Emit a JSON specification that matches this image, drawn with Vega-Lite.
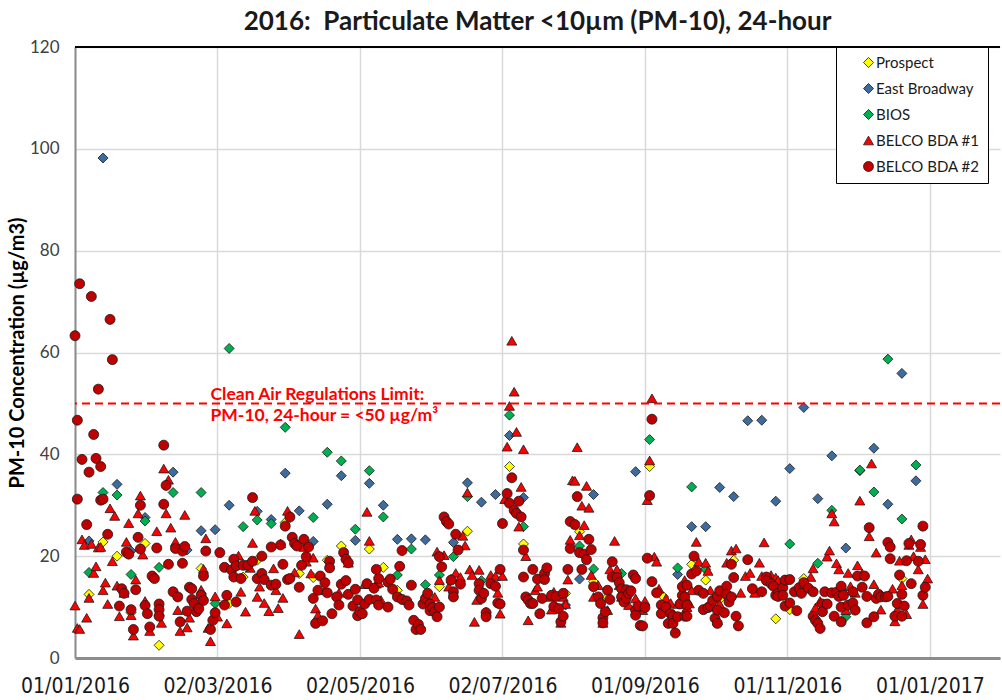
{
"$schema":"https://vega.github.io/schema/vega-lite/v6.json",
"width":925,"height":611,
"autosize":{"type":"none"},
"padding":{"left":75,"top":47,"right":2,"bottom":42},
"background":"white",
"title":{"text":"2016:\u00a0 Particulate Matter <10µm (PM-10), 24-hour","font":"Lato","fontSize":26,"fontWeight":"bold","color":"#1a1a1a","anchor":"middle","frame":"group","offset":3},
"config":{"view":{"stroke":null}},
"layer":[
{"data":{"values":[
{"site":"Prospect","date":"2016-01-07","pm10":12.5},{"site":"Prospect","date":"2016-01-13","pm10":22.8},{"site":"Prospect","date":"2016-01-19","pm10":20.0},{"site":"Prospect","date":"2016-01-25","pm10":8.9},{"site":"Prospect","date":"2016-01-31","pm10":22.5},{"site":"Prospect","date":"2016-02-06","pm10":2.5},{"site":"Prospect","date":"2016-02-24","pm10":17.6},{"site":"Prospect","date":"2016-03-07","pm10":10.7},{"site":"Prospect","date":"2016-03-13","pm10":15.9},{"site":"Prospect","date":"2016-03-19","pm10":19.2},{"site":"Prospect","date":"2016-03-31","pm10":26.6},{"site":"Prospect","date":"2016-04-06","pm10":16.6},{"site":"Prospect","date":"2016-04-12","pm10":15.8},{"site":"Prospect","date":"2016-04-18","pm10":19.2},{"site":"Prospect","date":"2016-04-24","pm10":22.0},{"site":"Prospect","date":"2016-05-06","pm10":21.4},{"site":"Prospect","date":"2016-05-12","pm10":17.8},{"site":"Prospect","date":"2016-05-18","pm10":13.3},{"site":"Prospect","date":"2016-06-05","pm10":14.0},{"site":"Prospect","date":"2016-06-17","pm10":24.9},{"site":"Prospect","date":"2016-06-29","pm10":14.1},{"site":"Prospect","date":"2016-07-05","pm10":37.6},{"site":"Prospect","date":"2016-07-11","pm10":22.4},{"site":"Prospect","date":"2016-07-29","pm10":12.7},{"site":"Prospect","date":"2016-08-04","pm10":24.8},{"site":"Prospect","date":"2016-08-10","pm10":15.0},{"site":"Prospect","date":"2016-08-16","pm10":12.0},{"site":"Prospect","date":"2016-09-03","pm10":37.6},{"site":"Prospect","date":"2016-09-09","pm10":12.0},{"site":"Prospect","date":"2016-09-21","pm10":18.4},{"site":"Prospect","date":"2016-09-27","pm10":15.3},{"site":"Prospect","date":"2016-10-03","pm10":11.5},{"site":"Prospect","date":"2016-10-09","pm10":19.2},{"site":"Prospect","date":"2016-10-27","pm10":7.7},{"site":"Prospect","date":"2016-11-02","pm10":9.5},{"site":"Prospect","date":"2016-11-08","pm10":15.6},{"site":"Prospect","date":"2016-12-20","pm10":15.6},
{"site":"East Broadway","date":"2016-01-07","pm10":23.0},{"site":"East Broadway","date":"2016-01-13","pm10":98.2},{"site":"East Broadway","date":"2016-01-19","pm10":34.1},{"site":"East Broadway","date":"2016-01-25","pm10":21.0},{"site":"East Broadway","date":"2016-01-31","pm10":27.6},{"site":"East Broadway","date":"2016-02-12","pm10":36.5},{"site":"East Broadway","date":"2016-02-18","pm10":21.2},{"site":"East Broadway","date":"2016-02-24","pm10":25.0},{"site":"East Broadway","date":"2016-03-01","pm10":25.2},{"site":"East Broadway","date":"2016-03-07","pm10":30.0},{"site":"East Broadway","date":"2016-03-19","pm10":28.8},{"site":"East Broadway","date":"2016-03-25","pm10":27.2},{"site":"East Broadway","date":"2016-03-31","pm10":36.3},{"site":"East Broadway","date":"2016-04-06","pm10":28.9},{"site":"East Broadway","date":"2016-04-12","pm10":22.9},{"site":"East Broadway","date":"2016-04-18","pm10":30.2},{"site":"East Broadway","date":"2016-04-24","pm10":35.8},{"site":"East Broadway","date":"2016-04-30","pm10":23.1},{"site":"East Broadway","date":"2016-05-06","pm10":34.3},{"site":"East Broadway","date":"2016-05-12","pm10":30.0},{"site":"East Broadway","date":"2016-05-18","pm10":23.3},{"site":"East Broadway","date":"2016-05-24","pm10":23.4},{"site":"East Broadway","date":"2016-05-30","pm10":23.2},{"site":"East Broadway","date":"2016-06-11","pm10":22.7},{"site":"East Broadway","date":"2016-06-17","pm10":34.4},{"site":"East Broadway","date":"2016-06-23","pm10":30.6},{"site":"East Broadway","date":"2016-06-29","pm10":32.1},{"site":"East Broadway","date":"2016-07-05","pm10":43.7},{"site":"East Broadway","date":"2016-07-11","pm10":31.5},{"site":"East Broadway","date":"2016-07-29","pm10":10.4},{"site":"East Broadway","date":"2016-08-04","pm10":15.5},{"site":"East Broadway","date":"2016-08-10","pm10":32.1},{"site":"East Broadway","date":"2016-08-28","pm10":36.6},{"site":"East Broadway","date":"2016-09-15","pm10":16.4},{"site":"East Broadway","date":"2016-09-21","pm10":25.8},{"site":"East Broadway","date":"2016-09-27","pm10":25.8},{"site":"East Broadway","date":"2016-10-03","pm10":33.5},{"site":"East Broadway","date":"2016-10-09","pm10":31.7},{"site":"East Broadway","date":"2016-10-15","pm10":46.6},{"site":"East Broadway","date":"2016-10-21","pm10":46.7},{"site":"East Broadway","date":"2016-10-27","pm10":30.8},{"site":"East Broadway","date":"2016-11-02","pm10":37.2},{"site":"East Broadway","date":"2016-11-08","pm10":49.2},{"site":"East Broadway","date":"2016-11-14","pm10":31.3},{"site":"East Broadway","date":"2016-11-20","pm10":39.7},{"site":"East Broadway","date":"2016-11-26","pm10":21.6},{"site":"East Broadway","date":"2016-12-02","pm10":36.8},{"site":"East Broadway","date":"2016-12-08","pm10":41.2},{"site":"East Broadway","date":"2016-12-14","pm10":30.2},{"site":"East Broadway","date":"2016-12-20","pm10":55.9},{"site":"East Broadway","date":"2016-12-26","pm10":34.8},
{"site":"BIOS","date":"2016-01-07","pm10":16.8},{"site":"BIOS","date":"2016-01-13","pm10":32.5},{"site":"BIOS","date":"2016-01-19","pm10":32.0},{"site":"BIOS","date":"2016-01-25","pm10":16.4},{"site":"BIOS","date":"2016-01-31","pm10":26.9},{"site":"BIOS","date":"2016-02-06","pm10":17.8},{"site":"BIOS","date":"2016-02-12","pm10":32.5},{"site":"BIOS","date":"2016-02-24","pm10":32.5},{"site":"BIOS","date":"2016-03-01","pm10":10.7},{"site":"BIOS","date":"2016-03-07","pm10":60.8},{"site":"BIOS","date":"2016-03-13","pm10":25.8},{"site":"BIOS","date":"2016-03-19","pm10":27.1},{"site":"BIOS","date":"2016-03-25","pm10":26.4},{"site":"BIOS","date":"2016-03-31","pm10":45.3},{"site":"BIOS","date":"2016-04-12","pm10":27.6},{"site":"BIOS","date":"2016-04-18","pm10":40.4},{"site":"BIOS","date":"2016-04-24","pm10":38.7},{"site":"BIOS","date":"2016-04-30","pm10":25.3},{"site":"BIOS","date":"2016-05-06","pm10":36.8},{"site":"BIOS","date":"2016-05-12","pm10":27.7},{"site":"BIOS","date":"2016-05-18","pm10":16.3},{"site":"BIOS","date":"2016-05-24","pm10":21.4},{"site":"BIOS","date":"2016-05-30","pm10":14.4},{"site":"BIOS","date":"2016-06-05","pm10":16.3},{"site":"BIOS","date":"2016-06-11","pm10":19.9},{"site":"BIOS","date":"2016-06-17","pm10":31.7},{"site":"BIOS","date":"2016-06-23","pm10":15.2},{"site":"BIOS","date":"2016-07-05","pm10":47.7},{"site":"BIOS","date":"2016-07-11","pm10":25.8},{"site":"BIOS","date":"2016-08-04","pm10":22.0},{"site":"BIOS","date":"2016-08-10","pm10":17.5},{"site":"BIOS","date":"2016-08-22","pm10":16.6},{"site":"BIOS","date":"2016-09-03","pm10":42.9},{"site":"BIOS","date":"2016-09-15","pm10":17.7},{"site":"BIOS","date":"2016-09-21","pm10":33.6},{"site":"BIOS","date":"2016-09-27","pm10":17.4},{"site":"BIOS","date":"2016-11-02","pm10":22.4},{"site":"BIOS","date":"2016-11-14","pm10":18.6},{"site":"BIOS","date":"2016-11-20","pm10":29.0},{"site":"BIOS","date":"2016-11-26","pm10":8.1},{"site":"BIOS","date":"2016-12-02","pm10":36.9},{"site":"BIOS","date":"2016-12-08","pm10":32.6},{"site":"BIOS","date":"2016-12-14","pm10":58.7},{"site":"BIOS","date":"2016-12-20","pm10":27.3},{"site":"BIOS","date":"2016-12-26","pm10":37.9},
{"site":"BELCO BDA #1","date":"2016-01-01","pm10":10.3},{"site":"BELCO BDA #1","date":"2016-01-02","pm10":5.9},{"site":"BELCO BDA #1","date":"2016-01-03","pm10":5.7},{"site":"BELCO BDA #1","date":"2016-01-04","pm10":23.3},{"site":"BELCO BDA #1","date":"2016-01-05","pm10":22.2},{"site":"BELCO BDA #1","date":"2016-01-06","pm10":7.9},{"site":"BELCO BDA #1","date":"2016-01-07","pm10":11.8},{"site":"BELCO BDA #1","date":"2016-01-08","pm10":22.4},{"site":"BELCO BDA #1","date":"2016-01-09","pm10":16.7},{"site":"BELCO BDA #1","date":"2016-01-10","pm10":18.0},{"site":"BELCO BDA #1","date":"2016-01-11","pm10":21.7},{"site":"BELCO BDA #1","date":"2016-01-12","pm10":21.8},{"site":"BELCO BDA #1","date":"2016-01-13","pm10":13.3},{"site":"BELCO BDA #1","date":"2016-01-14","pm10":14.8},{"site":"BELCO BDA #1","date":"2016-01-15","pm10":10.6},{"site":"BELCO BDA #1","date":"2016-01-16","pm10":29.4},{"site":"BELCO BDA #1","date":"2016-01-17","pm10":19.0},{"site":"BELCO BDA #1","date":"2016-01-18","pm10":27.9},{"site":"BELCO BDA #1","date":"2016-01-19","pm10":14.2},{"site":"BELCO BDA #1","date":"2016-01-20","pm10":8.2},{"site":"BELCO BDA #1","date":"2016-01-22","pm10":12.8},{"site":"BELCO BDA #1","date":"2016-01-23","pm10":22.8},{"site":"BELCO BDA #1","date":"2016-01-24","pm10":26.5},{"site":"BELCO BDA #1","date":"2016-01-25","pm10":8.4},{"site":"BELCO BDA #1","date":"2016-01-26","pm10":4.4},{"site":"BELCO BDA #1","date":"2016-01-27","pm10":15.4},{"site":"BELCO BDA #1","date":"2016-01-28","pm10":28.4},{"site":"BELCO BDA #1","date":"2016-01-29","pm10":31.9},{"site":"BELCO BDA #1","date":"2016-01-30","pm10":20.3},{"site":"BELCO BDA #1","date":"2016-01-31","pm10":11.2},{"site":"BELCO BDA #1","date":"2016-02-02","pm10":5.3},{"site":"BELCO BDA #1","date":"2016-02-05","pm10":24.9},{"site":"BELCO BDA #1","date":"2016-02-06","pm10":9.2},{"site":"BELCO BDA #1","date":"2016-02-07","pm10":6.9},{"site":"BELCO BDA #1","date":"2016-02-08","pm10":37.2},{"site":"BELCO BDA #1","date":"2016-02-09","pm10":28.4},{"site":"BELCO BDA #1","date":"2016-02-10","pm10":35.0},{"site":"BELCO BDA #1","date":"2016-02-11","pm10":25.6},{"site":"BELCO BDA #1","date":"2016-02-13","pm10":22.8},{"site":"BELCO BDA #1","date":"2016-02-14","pm10":9.4},{"site":"BELCO BDA #1","date":"2016-02-15","pm10":5.3},{"site":"BELCO BDA #1","date":"2016-02-17","pm10":28.1},{"site":"BELCO BDA #1","date":"2016-02-18","pm10":6.0},{"site":"BELCO BDA #1","date":"2016-02-19","pm10":7.9},{"site":"BELCO BDA #1","date":"2016-02-24","pm10":13.4},{"site":"BELCO BDA #1","date":"2016-02-25","pm10":17.5},{"site":"BELCO BDA #1","date":"2016-02-26","pm10":23.5},{"site":"BELCO BDA #1","date":"2016-02-27","pm10":5.9},{"site":"BELCO BDA #1","date":"2016-02-28","pm10":3.3},{"site":"BELCO BDA #1","date":"2016-03-01","pm10":12.1},{"site":"BELCO BDA #1","date":"2016-03-02","pm10":8.1},{"site":"BELCO BDA #1","date":"2016-03-06","pm10":6.8},{"site":"BELCO BDA #1","date":"2016-03-11","pm10":20.1},{"site":"BELCO BDA #1","date":"2016-03-12","pm10":13.0},{"site":"BELCO BDA #1","date":"2016-03-14","pm10":9.1},{"site":"BELCO BDA #1","date":"2016-03-16","pm10":17.7},{"site":"BELCO BDA #1","date":"2016-03-17","pm10":22.6},{"site":"BELCO BDA #1","date":"2016-03-18","pm10":28.9},{"site":"BELCO BDA #1","date":"2016-03-19","pm10":12.0},{"site":"BELCO BDA #1","date":"2016-03-20","pm10":14.0},{"site":"BELCO BDA #1","date":"2016-03-22","pm10":10.8},{"site":"BELCO BDA #1","date":"2016-03-24","pm10":9.2},{"site":"BELCO BDA #1","date":"2016-03-26","pm10":17.6},{"site":"BELCO BDA #1","date":"2016-03-27","pm10":13.3},{"site":"BELCO BDA #1","date":"2016-03-28","pm10":9.8},{"site":"BELCO BDA #1","date":"2016-03-29","pm10":22.5},{"site":"BELCO BDA #1","date":"2016-03-30","pm10":11.8},{"site":"BELCO BDA #1","date":"2016-04-01","pm10":28.9},{"site":"BELCO BDA #1","date":"2016-04-04","pm10":16.8},{"site":"BELCO BDA #1","date":"2016-04-06","pm10":4.7},{"site":"BELCO BDA #1","date":"2016-04-08","pm10":21.8},{"site":"BELCO BDA #1","date":"2016-04-09","pm10":18.9},{"site":"BELCO BDA #1","date":"2016-04-11","pm10":16.6},{"site":"BELCO BDA #1","date":"2016-04-12","pm10":19.7},{"site":"BELCO BDA #1","date":"2016-04-13","pm10":9.7},{"site":"BELCO BDA #1","date":"2016-04-14","pm10":8.4},{"site":"BELCO BDA #1","date":"2016-04-17","pm10":13.3},{"site":"BELCO BDA #1","date":"2016-04-23","pm10":12.8},{"site":"BELCO BDA #1","date":"2016-04-27","pm10":18.7},{"site":"BELCO BDA #1","date":"2016-05-04","pm10":14.5},{"site":"BELCO BDA #1","date":"2016-05-05","pm10":28.7},{"site":"BELCO BDA #1","date":"2016-05-06","pm10":23.0},{"site":"BELCO BDA #1","date":"2016-05-09","pm10":14.6},{"site":"BELCO BDA #1","date":"2016-05-10","pm10":14.8},{"site":"BELCO BDA #1","date":"2016-05-11","pm10":11.4},{"site":"BELCO BDA #1","date":"2016-06-03","pm10":12.0},{"site":"BELCO BDA #1","date":"2016-06-04","pm10":20.9},{"site":"BELCO BDA #1","date":"2016-06-05","pm10":15.3},{"site":"BELCO BDA #1","date":"2016-06-07","pm10":20.2},{"site":"BELCO BDA #1","date":"2016-06-09","pm10":14.0},{"site":"BELCO BDA #1","date":"2016-06-10","pm10":15.6},{"site":"BELCO BDA #1","date":"2016-06-12","pm10":16.7},{"site":"BELCO BDA #1","date":"2016-06-14","pm10":15.9},{"site":"BELCO BDA #1","date":"2016-06-15","pm10":24.0},{"site":"BELCO BDA #1","date":"2016-06-16","pm10":22.1},{"site":"BELCO BDA #1","date":"2016-06-17","pm10":32.5},{"site":"BELCO BDA #1","date":"2016-06-18","pm10":17.4},{"site":"BELCO BDA #1","date":"2016-06-19","pm10":16.3},{"site":"BELCO BDA #1","date":"2016-06-20","pm10":7.1},{"site":"BELCO BDA #1","date":"2016-06-21","pm10":11.4},{"site":"BELCO BDA #1","date":"2016-06-22","pm10":17.3},{"site":"BELCO BDA #1","date":"2016-06-25","pm10":9.1},{"site":"BELCO BDA #1","date":"2016-06-27","pm10":16.3},{"site":"BELCO BDA #1","date":"2016-06-29","pm10":16.1},{"site":"BELCO BDA #1","date":"2016-06-30","pm10":12.8},{"site":"BELCO BDA #1","date":"2016-07-01","pm10":8.7},{"site":"BELCO BDA #1","date":"2016-07-02","pm10":16.1},{"site":"BELCO BDA #1","date":"2016-07-03","pm10":31.2},{"site":"BELCO BDA #1","date":"2016-07-04","pm10":41.5},{"site":"BELCO BDA #1","date":"2016-07-05","pm10":49.5},{"site":"BELCO BDA #1","date":"2016-07-06","pm10":62.3},{"site":"BELCO BDA #1","date":"2016-07-07","pm10":52.3},{"site":"BELCO BDA #1","date":"2016-07-08","pm10":44.4},{"site":"BELCO BDA #1","date":"2016-07-09","pm10":25.8},{"site":"BELCO BDA #1","date":"2016-07-10","pm10":33.6},{"site":"BELCO BDA #1","date":"2016-07-11","pm10":41.0},{"site":"BELCO BDA #1","date":"2016-07-12","pm10":20.0},{"site":"BELCO BDA #1","date":"2016-07-13","pm10":7.4},{"site":"BELCO BDA #1","date":"2016-07-16","pm10":13.3},{"site":"BELCO BDA #1","date":"2016-07-17","pm10":14.0},{"site":"BELCO BDA #1","date":"2016-07-22","pm10":12.0},{"site":"BELCO BDA #1","date":"2016-07-23","pm10":9.5},{"site":"BELCO BDA #1","date":"2016-07-24","pm10":13.0},{"site":"BELCO BDA #1","date":"2016-07-27","pm10":6.9},{"site":"BELCO BDA #1","date":"2016-07-28","pm10":12.0},{"site":"BELCO BDA #1","date":"2016-07-29","pm10":10.6},{"site":"BELCO BDA #1","date":"2016-07-30","pm10":15.4},{"site":"BELCO BDA #1","date":"2016-07-31","pm10":23.2},{"site":"BELCO BDA #1","date":"2016-08-01","pm10":34.9},{"site":"BELCO BDA #1","date":"2016-08-02","pm10":34.8},{"site":"BELCO BDA #1","date":"2016-08-03","pm10":41.4},{"site":"BELCO BDA #1","date":"2016-08-04","pm10":24.1},{"site":"BELCO BDA #1","date":"2016-08-05","pm10":29.9},{"site":"BELCO BDA #1","date":"2016-08-06","pm10":26.1},{"site":"BELCO BDA #1","date":"2016-08-07","pm10":33.8},{"site":"BELCO BDA #1","date":"2016-08-08","pm10":29.5},{"site":"BELCO BDA #1","date":"2016-08-09","pm10":16.3},{"site":"BELCO BDA #1","date":"2016-08-10","pm10":12.0},{"site":"BELCO BDA #1","date":"2016-08-12","pm10":14.3},{"site":"BELCO BDA #1","date":"2016-08-14","pm10":6.9},{"site":"BELCO BDA #1","date":"2016-08-16","pm10":9.4},{"site":"BELCO BDA #1","date":"2016-08-17","pm10":17.4},{"site":"BELCO BDA #1","date":"2016-08-19","pm10":23.0},{"site":"BELCO BDA #1","date":"2016-08-20","pm10":17.4},{"site":"BELCO BDA #1","date":"2016-08-21","pm10":14.3},{"site":"BELCO BDA #1","date":"2016-08-22","pm10":12.0},{"site":"BELCO BDA #1","date":"2016-08-25","pm10":10.4},{"site":"BELCO BDA #1","date":"2016-08-28","pm10":11.7},{"site":"BELCO BDA #1","date":"2016-08-31","pm10":9.4},{"site":"BELCO BDA #1","date":"2016-09-01","pm10":11.2},{"site":"BELCO BDA #1","date":"2016-09-02","pm10":31.0},{"site":"BELCO BDA #1","date":"2016-09-03","pm10":38.8},{"site":"BELCO BDA #1","date":"2016-09-04","pm10":51.0},{"site":"BELCO BDA #1","date":"2016-09-05","pm10":19.9},{"site":"BELCO BDA #1","date":"2016-09-06","pm10":18.9},{"site":"BELCO BDA #1","date":"2016-09-07","pm10":13.6},{"site":"BELCO BDA #1","date":"2016-09-10","pm10":11.7},{"site":"BELCO BDA #1","date":"2016-09-12","pm10":10.8},{"site":"BELCO BDA #1","date":"2016-09-15","pm10":10.6},{"site":"BELCO BDA #1","date":"2016-09-17","pm10":11.2},{"site":"BELCO BDA #1","date":"2016-09-18","pm10":15.3},{"site":"BELCO BDA #1","date":"2016-09-19","pm10":10.0},{"site":"BELCO BDA #1","date":"2016-09-20","pm10":10.7},{"site":"BELCO BDA #1","date":"2016-09-21","pm10":13.3},{"site":"BELCO BDA #1","date":"2016-09-23","pm10":22.8},{"site":"BELCO BDA #1","date":"2016-09-24","pm10":18.9},{"site":"BELCO BDA #1","date":"2016-09-27","pm10":18.7},{"site":"BELCO BDA #1","date":"2016-09-28","pm10":17.1},{"site":"BELCO BDA #1","date":"2016-09-29","pm10":13.3},{"site":"BELCO BDA #1","date":"2016-10-02","pm10":7.4},{"site":"BELCO BDA #1","date":"2016-10-03","pm10":10.6},{"site":"BELCO BDA #1","date":"2016-10-06","pm10":18.7},{"site":"BELCO BDA #1","date":"2016-10-07","pm10":12.3},{"site":"BELCO BDA #1","date":"2016-10-08","pm10":21.1},{"site":"BELCO BDA #1","date":"2016-10-10","pm10":21.5},{"site":"BELCO BDA #1","date":"2016-10-12","pm10":12.8},{"site":"BELCO BDA #1","date":"2016-10-14","pm10":16.1},{"site":"BELCO BDA #1","date":"2016-10-16","pm10":16.7},{"site":"BELCO BDA #1","date":"2016-10-18","pm10":12.8},{"site":"BELCO BDA #1","date":"2016-10-20","pm10":18.7},{"site":"BELCO BDA #1","date":"2016-10-21","pm10":16.1},{"site":"BELCO BDA #1","date":"2016-10-22","pm10":22.7},{"site":"BELCO BDA #1","date":"2016-10-25","pm10":16.3},{"site":"BELCO BDA #1","date":"2016-10-27","pm10":15.8},{"site":"BELCO BDA #1","date":"2016-10-28","pm10":15.3},{"site":"BELCO BDA #1","date":"2016-10-31","pm10":15.4},{"site":"BELCO BDA #1","date":"2016-11-11","pm10":15.9},{"site":"BELCO BDA #1","date":"2016-11-12","pm10":17.6},{"site":"BELCO BDA #1","date":"2016-11-13","pm10":9.9},{"site":"BELCO BDA #1","date":"2016-11-15","pm10":11.2},{"site":"BELCO BDA #1","date":"2016-11-18","pm10":19.9},{"site":"BELCO BDA #1","date":"2016-11-19","pm10":21.1},{"site":"BELCO BDA #1","date":"2016-11-20","pm10":28.4},{"site":"BELCO BDA #1","date":"2016-11-21","pm10":26.8},{"site":"BELCO BDA #1","date":"2016-11-22","pm10":18.6},{"site":"BELCO BDA #1","date":"2016-11-23","pm10":17.4},{"site":"BELCO BDA #1","date":"2016-11-24","pm10":14.1},{"site":"BELCO BDA #1","date":"2016-11-26","pm10":9.4},{"site":"BELCO BDA #1","date":"2016-11-27","pm10":16.7},{"site":"BELCO BDA #1","date":"2016-11-28","pm10":14.1},{"site":"BELCO BDA #1","date":"2016-11-30","pm10":12.8},{"site":"BELCO BDA #1","date":"2016-12-01","pm10":18.2},{"site":"BELCO BDA #1","date":"2016-12-02","pm10":30.9},{"site":"BELCO BDA #1","date":"2016-12-03","pm10":16.6},{"site":"BELCO BDA #1","date":"2016-12-06","pm10":23.9},{"site":"BELCO BDA #1","date":"2016-12-07","pm10":38.2},{"site":"BELCO BDA #1","date":"2016-12-08","pm10":14.5},{"site":"BELCO BDA #1","date":"2016-12-09","pm10":20.7},{"site":"BELCO BDA #1","date":"2016-12-11","pm10":9.5},{"site":"BELCO BDA #1","date":"2016-12-16","pm10":13.6},{"site":"BELCO BDA #1","date":"2016-12-17","pm10":7.2},{"site":"BELCO BDA #1","date":"2016-12-18","pm10":9.5},{"site":"BELCO BDA #1","date":"2016-12-19","pm10":19.1},{"site":"BELCO BDA #1","date":"2016-12-20","pm10":14.3},{"site":"BELCO BDA #1","date":"2016-12-22","pm10":8.6},{"site":"BELCO BDA #1","date":"2016-12-23","pm10":22.2},{"site":"BELCO BDA #1","date":"2016-12-24","pm10":23.3},{"site":"BELCO BDA #1","date":"2016-12-25","pm10":20.0},{"site":"BELCO BDA #1","date":"2016-12-27","pm10":17.4},{"site":"BELCO BDA #1","date":"2016-12-28","pm10":21.8},{"site":"BELCO BDA #1","date":"2016-12-29","pm10":10.6},{"site":"BELCO BDA #1","date":"2016-12-30","pm10":19.4},{"site":"BELCO BDA #1","date":"2016-12-31","pm10":15.6},
{"site":"BELCO BDA #2","date":"2016-01-01","pm10":63.3},{"site":"BELCO BDA #2","date":"2016-01-02","pm10":46.7},{"site":"BELCO BDA #2","date":"2016-01-02","pm10":31.2},{"site":"BELCO BDA #2","date":"2016-01-03","pm10":73.5},{"site":"BELCO BDA #2","date":"2016-01-04","pm10":39.0},{"site":"BELCO BDA #2","date":"2016-01-06","pm10":26.2},{"site":"BELCO BDA #2","date":"2016-01-07","pm10":36.5},{"site":"BELCO BDA #2","date":"2016-01-08","pm10":71.0},{"site":"BELCO BDA #2","date":"2016-01-09","pm10":43.9},{"site":"BELCO BDA #2","date":"2016-01-10","pm10":39.2},{"site":"BELCO BDA #2","date":"2016-01-11","pm10":52.8},{"site":"BELCO BDA #2","date":"2016-01-12","pm10":37.6},{"site":"BELCO BDA #2","date":"2016-01-12","pm10":31.0},{"site":"BELCO BDA #2","date":"2016-01-13","pm10":31.2},{"site":"BELCO BDA #2","date":"2016-01-15","pm10":24.3},{"site":"BELCO BDA #2","date":"2016-01-16","pm10":66.5},{"site":"BELCO BDA #2","date":"2016-01-17","pm10":58.6},{"site":"BELCO BDA #2","date":"2016-01-20","pm10":10.2},{"site":"BELCO BDA #2","date":"2016-01-21","pm10":13.6},{"site":"BELCO BDA #2","date":"2016-01-22","pm10":12.7},{"site":"BELCO BDA #2","date":"2016-01-23","pm10":20.8},{"site":"BELCO BDA #2","date":"2016-01-24","pm10":20.4},{"site":"BELCO BDA #2","date":"2016-01-25","pm10":9.5},{"site":"BELCO BDA #2","date":"2016-01-26","pm10":5.6},{"site":"BELCO BDA #2","date":"2016-01-27","pm10":13.4},{"site":"BELCO BDA #2","date":"2016-01-28","pm10":23.7},{"site":"BELCO BDA #2","date":"2016-01-29","pm10":30.0},{"site":"BELCO BDA #2","date":"2016-01-29","pm10":21.4},{"site":"BELCO BDA #2","date":"2016-01-31","pm10":10.3},{"site":"BELCO BDA #2","date":"2016-02-01","pm10":8.7},{"site":"BELCO BDA #2","date":"2016-02-02","pm10":6.1},{"site":"BELCO BDA #2","date":"2016-02-03","pm10":16.1},{"site":"BELCO BDA #2","date":"2016-02-04","pm10":15.6},{"site":"BELCO BDA #2","date":"2016-02-05","pm10":21.6},{"site":"BELCO BDA #2","date":"2016-02-06","pm10":10.6},{"site":"BELCO BDA #2","date":"2016-02-06","pm10":9.5},{"site":"BELCO BDA #2","date":"2016-02-06","pm10":8.2},{"site":"BELCO BDA #2","date":"2016-02-08","pm10":41.8},{"site":"BELCO BDA #2","date":"2016-02-08","pm10":30.2},{"site":"BELCO BDA #2","date":"2016-02-09","pm10":33.9},{"site":"BELCO BDA #2","date":"2016-02-10","pm10":18.4},{"site":"BELCO BDA #2","date":"2016-02-12","pm10":13.0},{"site":"BELCO BDA #2","date":"2016-02-13","pm10":21.5},{"site":"BELCO BDA #2","date":"2016-02-14","pm10":12.0},{"site":"BELCO BDA #2","date":"2016-02-15","pm10":7.1},{"site":"BELCO BDA #2","date":"2016-02-16","pm10":21.0},{"site":"BELCO BDA #2","date":"2016-02-16","pm10":18.6},{"site":"BELCO BDA #2","date":"2016-02-17","pm10":21.9},{"site":"BELCO BDA #2","date":"2016-02-18","pm10":9.2},{"site":"BELCO BDA #2","date":"2016-02-19","pm10":13.9},{"site":"BELCO BDA #2","date":"2016-02-20","pm10":13.6},{"site":"BELCO BDA #2","date":"2016-02-20","pm10":11.5},{"site":"BELCO BDA #2","date":"2016-02-21","pm10":10.7},{"site":"BELCO BDA #2","date":"2016-02-22","pm10":9.1},{"site":"BELCO BDA #2","date":"2016-02-23","pm10":9.7},{"site":"BELCO BDA #2","date":"2016-02-24","pm10":12.3},{"site":"BELCO BDA #2","date":"2016-02-25","pm10":16.1},{"site":"BELCO BDA #2","date":"2016-02-25","pm10":11.3},{"site":"BELCO BDA #2","date":"2016-02-26","pm10":21.0},{"site":"BELCO BDA #2","date":"2016-02-28","pm10":5.6},{"site":"BELCO BDA #2","date":"2016-02-29","pm10":7.4},{"site":"BELCO BDA #2","date":"2016-03-01","pm10":8.9},{"site":"BELCO BDA #2","date":"2016-03-03","pm10":20.7},{"site":"BELCO BDA #2","date":"2016-03-05","pm10":17.8},{"site":"BELCO BDA #2","date":"2016-03-05","pm10":10.4},{"site":"BELCO BDA #2","date":"2016-03-06","pm10":12.3},{"site":"BELCO BDA #2","date":"2016-03-08","pm10":17.3},{"site":"BELCO BDA #2","date":"2016-03-09","pm10":19.4},{"site":"BELCO BDA #2","date":"2016-03-09","pm10":15.9},{"site":"BELCO BDA #2","date":"2016-03-10","pm10":18.1},{"site":"BELCO BDA #2","date":"2016-03-10","pm10":11.0},{"site":"BELCO BDA #2","date":"2016-03-12","pm10":15.6},{"site":"BELCO BDA #2","date":"2016-03-13","pm10":18.2},{"site":"BELCO BDA #2","date":"2016-03-15","pm10":18.2},{"site":"BELCO BDA #2","date":"2016-03-17","pm10":19.0},{"site":"BELCO BDA #2","date":"2016-03-17","pm10":31.5},{"site":"BELCO BDA #2","date":"2016-03-19","pm10":15.6},{"site":"BELCO BDA #2","date":"2016-03-21","pm10":20.0},{"site":"BELCO BDA #2","date":"2016-03-21","pm10":16.6},{"site":"BELCO BDA #2","date":"2016-03-22","pm10":15.4},{"site":"BELCO BDA #2","date":"2016-03-25","pm10":14.3},{"site":"BELCO BDA #2","date":"2016-03-25","pm10":21.8},{"site":"BELCO BDA #2","date":"2016-03-27","pm10":14.5},{"site":"BELCO BDA #2","date":"2016-03-29","pm10":22.2},{"site":"BELCO BDA #2","date":"2016-03-30","pm10":18.4},{"site":"BELCO BDA #2","date":"2016-03-31","pm10":25.9},{"site":"BELCO BDA #2","date":"2016-04-01","pm10":15.4},{"site":"BELCO BDA #2","date":"2016-04-02","pm10":15.6},{"site":"BELCO BDA #2","date":"2016-04-02","pm10":27.7},{"site":"BELCO BDA #2","date":"2016-04-03","pm10":23.7},{"site":"BELCO BDA #2","date":"2016-04-04","pm10":22.5},{"site":"BELCO BDA #2","date":"2016-04-05","pm10":22.0},{"site":"BELCO BDA #2","date":"2016-04-06","pm10":13.9},{"site":"BELCO BDA #2","date":"2016-04-07","pm10":18.2},{"site":"BELCO BDA #2","date":"2016-04-08","pm10":23.3},{"site":"BELCO BDA #2","date":"2016-04-09","pm10":19.9},{"site":"BELCO BDA #2","date":"2016-04-10","pm10":21.8},{"site":"BELCO BDA #2","date":"2016-04-12","pm10":11.7},{"site":"BELCO BDA #2","date":"2016-04-13","pm10":6.8},{"site":"BELCO BDA #2","date":"2016-04-14","pm10":13.3},{"site":"BELCO BDA #2","date":"2016-04-15","pm10":16.1},{"site":"BELCO BDA #2","date":"2016-04-16","pm10":7.3},{"site":"BELCO BDA #2","date":"2016-04-17","pm10":14.8},{"site":"BELCO BDA #2","date":"2016-04-18","pm10":12.8},{"site":"BELCO BDA #2","date":"2016-04-19","pm10":19.0},{"site":"BELCO BDA #2","date":"2016-04-19","pm10":17.7},{"site":"BELCO BDA #2","date":"2016-04-20","pm10":8.7},{"site":"BELCO BDA #2","date":"2016-04-22","pm10":12.0},{"site":"BELCO BDA #2","date":"2016-04-23","pm10":10.4},{"site":"BELCO BDA #2","date":"2016-04-24","pm10":14.5},{"site":"BELCO BDA #2","date":"2016-04-25","pm10":20.7},{"site":"BELCO BDA #2","date":"2016-04-26","pm10":19.4},{"site":"BELCO BDA #2","date":"2016-04-26","pm10":15.2},{"site":"BELCO BDA #2","date":"2016-04-27","pm10":18.7},{"site":"BELCO BDA #2","date":"2016-04-27","pm10":12.5},{"site":"BELCO BDA #2","date":"2016-04-29","pm10":10.2},{"site":"BELCO BDA #2","date":"2016-04-30","pm10":13.5},{"site":"BELCO BDA #2","date":"2016-05-01","pm10":11.4},{"site":"BELCO BDA #2","date":"2016-05-01","pm10":8.3},{"site":"BELCO BDA #2","date":"2016-05-02","pm10":9.1},{"site":"BELCO BDA #2","date":"2016-05-03","pm10":8.7},{"site":"BELCO BDA #2","date":"2016-05-04","pm10":10.6},{"site":"BELCO BDA #2","date":"2016-05-05","pm10":14.6},{"site":"BELCO BDA #2","date":"2016-05-06","pm10":11.5},{"site":"BELCO BDA #2","date":"2016-05-08","pm10":13.7},{"site":"BELCO BDA #2","date":"2016-05-09","pm10":17.4},{"site":"BELCO BDA #2","date":"2016-05-09","pm10":11.4},{"site":"BELCO BDA #2","date":"2016-05-10","pm10":15.6},{"site":"BELCO BDA #2","date":"2016-05-10","pm10":10.4},{"site":"BELCO BDA #2","date":"2016-05-14","pm10":10.0},{"site":"BELCO BDA #2","date":"2016-05-14","pm10":14.9},{"site":"BELCO BDA #2","date":"2016-05-15","pm10":15.5},{"site":"BELCO BDA #2","date":"2016-05-16","pm10":13.5},{"site":"BELCO BDA #2","date":"2016-05-18","pm10":12.0},{"site":"BELCO BDA #2","date":"2016-05-19","pm10":18.0},{"site":"BELCO BDA #2","date":"2016-05-20","pm10":21.1},{"site":"BELCO BDA #2","date":"2016-05-20","pm10":11.5},{"site":"BELCO BDA #2","date":"2016-05-22","pm10":11.2},{"site":"BELCO BDA #2","date":"2016-05-23","pm10":10.4},{"site":"BELCO BDA #2","date":"2016-05-24","pm10":14.3},{"site":"BELCO BDA #2","date":"2016-05-25","pm10":7.4},{"site":"BELCO BDA #2","date":"2016-05-26","pm10":5.6},{"site":"BELCO BDA #2","date":"2016-05-27","pm10":6.6},{"site":"BELCO BDA #2","date":"2016-05-28","pm10":5.6},{"site":"BELCO BDA #2","date":"2016-05-29","pm10":10.6},{"site":"BELCO BDA #2","date":"2016-05-30","pm10":11.7},{"site":"BELCO BDA #2","date":"2016-05-31","pm10":12.7},{"site":"BELCO BDA #2","date":"2016-06-01","pm10":10.6},{"site":"BELCO BDA #2","date":"2016-06-01","pm10":9.3},{"site":"BELCO BDA #2","date":"2016-06-02","pm10":9.9},{"site":"BELCO BDA #2","date":"2016-06-03","pm10":9.1},{"site":"BELCO BDA #2","date":"2016-06-04","pm10":8.1},{"site":"BELCO BDA #2","date":"2016-06-05","pm10":19.9},{"site":"BELCO BDA #2","date":"2016-06-05","pm10":10.0},{"site":"BELCO BDA #2","date":"2016-06-06","pm10":17.9},{"site":"BELCO BDA #2","date":"2016-06-07","pm10":27.7},{"site":"BELCO BDA #2","date":"2016-06-08","pm10":26.8},{"site":"BELCO BDA #2","date":"2016-06-09","pm10":26.3},{"site":"BELCO BDA #2","date":"2016-06-10","pm10":15.3},{"site":"BELCO BDA #2","date":"2016-06-11","pm10":13.0},{"site":"BELCO BDA #2","date":"2016-06-11","pm10":12.0},{"site":"BELCO BDA #2","date":"2016-06-12","pm10":24.3},{"site":"BELCO BDA #2","date":"2016-06-13","pm10":21.2},{"site":"BELCO BDA #2","date":"2016-06-14","pm10":14.5},{"site":"BELCO BDA #2","date":"2016-06-22","pm10":14.6},{"site":"BELCO BDA #2","date":"2016-06-22","pm10":13.3},{"site":"BELCO BDA #2","date":"2016-06-23","pm10":11.7},{"site":"BELCO BDA #2","date":"2016-06-24","pm10":12.7},{"site":"BELCO BDA #2","date":"2016-06-25","pm10":8.9},{"site":"BELCO BDA #2","date":"2016-06-25","pm10":8.1},{"site":"BELCO BDA #2","date":"2016-06-27","pm10":14.6},{"site":"BELCO BDA #2","date":"2016-06-29","pm10":14.1},{"site":"BELCO BDA #2","date":"2016-06-30","pm10":10.8},{"site":"BELCO BDA #2","date":"2016-07-01","pm10":17.4},{"site":"BELCO BDA #2","date":"2016-07-01","pm10":10.6},{"site":"BELCO BDA #2","date":"2016-07-02","pm10":26.4},{"site":"BELCO BDA #2","date":"2016-07-04","pm10":32.3},{"site":"BELCO BDA #2","date":"2016-07-05","pm10":30.4},{"site":"BELCO BDA #2","date":"2016-07-06","pm10":35.4},{"site":"BELCO BDA #2","date":"2016-07-07","pm10":29.0},{"site":"BELCO BDA #2","date":"2016-07-08","pm10":28.4},{"site":"BELCO BDA #2","date":"2016-07-09","pm10":30.8},{"site":"BELCO BDA #2","date":"2016-07-10","pm10":27.7},{"site":"BELCO BDA #2","date":"2016-07-11","pm10":21.2},{"site":"BELCO BDA #2","date":"2016-07-11","pm10":15.9},{"site":"BELCO BDA #2","date":"2016-07-12","pm10":12.0},{"site":"BELCO BDA #2","date":"2016-07-13","pm10":11.4},{"site":"BELCO BDA #2","date":"2016-07-14","pm10":10.7},{"site":"BELCO BDA #2","date":"2016-07-15","pm10":17.4},{"site":"BELCO BDA #2","date":"2016-07-15","pm10":10.7},{"site":"BELCO BDA #2","date":"2016-07-17","pm10":15.5},{"site":"BELCO BDA #2","date":"2016-07-18","pm10":8.7},{"site":"BELCO BDA #2","date":"2016-07-19","pm10":11.7},{"site":"BELCO BDA #2","date":"2016-07-20","pm10":16.6},{"site":"BELCO BDA #2","date":"2016-07-20","pm10":15.4},{"site":"BELCO BDA #2","date":"2016-07-21","pm10":17.7},{"site":"BELCO BDA #2","date":"2016-07-23","pm10":12.3},{"site":"BELCO BDA #2","date":"2016-07-24","pm10":10.1},{"site":"BELCO BDA #2","date":"2016-07-25","pm10":12.1},{"site":"BELCO BDA #2","date":"2016-07-26","pm10":9.7},{"site":"BELCO BDA #2","date":"2016-07-27","pm10":7.1},{"site":"BELCO BDA #2","date":"2016-07-28","pm10":12.7},{"site":"BELCO BDA #2","date":"2016-07-28","pm10":8.2},{"site":"BELCO BDA #2","date":"2016-07-30","pm10":17.4},{"site":"BELCO BDA #2","date":"2016-07-31","pm10":26.8},{"site":"BELCO BDA #2","date":"2016-07-31","pm10":21.5},{"site":"BELCO BDA #2","date":"2016-08-02","pm10":26.2},{"site":"BELCO BDA #2","date":"2016-08-03","pm10":31.7},{"site":"BELCO BDA #2","date":"2016-08-04","pm10":20.7},{"site":"BELCO BDA #2","date":"2016-08-05","pm10":17.4},{"site":"BELCO BDA #2","date":"2016-08-06","pm10":20.4},{"site":"BELCO BDA #2","date":"2016-08-07","pm10":19.3},{"site":"BELCO BDA #2","date":"2016-08-08","pm10":23.3},{"site":"BELCO BDA #2","date":"2016-08-09","pm10":21.3},{"site":"BELCO BDA #2","date":"2016-08-10","pm10":14.0},{"site":"BELCO BDA #2","date":"2016-08-12","pm10":12.0},{"site":"BELCO BDA #2","date":"2016-08-13","pm10":10.7},{"site":"BELCO BDA #2","date":"2016-08-14","pm10":7.9},{"site":"BELCO BDA #2","date":"2016-08-14","pm10":6.9},{"site":"BELCO BDA #2","date":"2016-08-15","pm10":9.1},{"site":"BELCO BDA #2","date":"2016-08-16","pm10":13.3},{"site":"BELCO BDA #2","date":"2016-08-17","pm10":11.5},{"site":"BELCO BDA #2","date":"2016-08-18","pm10":18.9},{"site":"BELCO BDA #2","date":"2016-08-18","pm10":15.9},{"site":"BELCO BDA #2","date":"2016-08-20","pm10":15.8},{"site":"BELCO BDA #2","date":"2016-08-21","pm10":14.8},{"site":"BELCO BDA #2","date":"2016-08-22","pm10":13.6},{"site":"BELCO BDA #2","date":"2016-08-22","pm10":12.0},{"site":"BELCO BDA #2","date":"2016-08-23","pm10":11.0},{"site":"BELCO BDA #2","date":"2016-08-24","pm10":13.4},{"site":"BELCO BDA #2","date":"2016-08-24","pm10":11.7},{"site":"BELCO BDA #2","date":"2016-08-25","pm10":12.7},{"site":"BELCO BDA #2","date":"2016-08-26","pm10":13.2},{"site":"BELCO BDA #2","date":"2016-08-27","pm10":16.3},{"site":"BELCO BDA #2","date":"2016-08-28","pm10":15.6},{"site":"BELCO BDA #2","date":"2016-08-28","pm10":9.4},{"site":"BELCO BDA #2","date":"2016-08-28","pm10":8.4},{"site":"BELCO BDA #2","date":"2016-08-29","pm10":10.2},{"site":"BELCO BDA #2","date":"2016-08-30","pm10":6.4},{"site":"BELCO BDA #2","date":"2016-08-31","pm10":6.3},{"site":"BELCO BDA #2","date":"2016-09-01","pm10":9.9},{"site":"BELCO BDA #2","date":"2016-09-02","pm10":19.6},{"site":"BELCO BDA #2","date":"2016-09-03","pm10":31.9},{"site":"BELCO BDA #2","date":"2016-09-04","pm10":46.9},{"site":"BELCO BDA #2","date":"2016-09-04","pm10":15.0},{"site":"BELCO BDA #2","date":"2016-09-06","pm10":12.8},{"site":"BELCO BDA #2","date":"2016-09-08","pm10":10.4},{"site":"BELCO BDA #2","date":"2016-09-08","pm10":8.7},{"site":"BELCO BDA #2","date":"2016-09-10","pm10":10.0},{"site":"BELCO BDA #2","date":"2016-09-11","pm10":6.8},{"site":"BELCO BDA #2","date":"2016-09-12","pm10":8.7},{"site":"BELCO BDA #2","date":"2016-09-13","pm10":8.2},{"site":"BELCO BDA #2","date":"2016-09-13","pm10":6.8},{"site":"BELCO BDA #2","date":"2016-09-14","pm10":4.9},{"site":"BELCO BDA #2","date":"2016-09-15","pm10":8.1},{"site":"BELCO BDA #2","date":"2016-09-16","pm10":10.6},{"site":"BELCO BDA #2","date":"2016-09-17","pm10":12.3},{"site":"BELCO BDA #2","date":"2016-09-17","pm10":14.0},{"site":"BELCO BDA #2","date":"2016-09-18","pm10":12.0},{"site":"BELCO BDA #2","date":"2016-09-18","pm10":8.2},{"site":"BELCO BDA #2","date":"2016-09-19","pm10":14.3},{"site":"BELCO BDA #2","date":"2016-09-19","pm10":8.2},{"site":"BELCO BDA #2","date":"2016-09-19","pm10":10.4},{"site":"BELCO BDA #2","date":"2016-09-21","pm10":16.5},{"site":"BELCO BDA #2","date":"2016-09-22","pm10":20.0},{"site":"BELCO BDA #2","date":"2016-09-23","pm10":17.1},{"site":"BELCO BDA #2","date":"2016-09-24","pm10":13.3},{"site":"BELCO BDA #2","date":"2016-09-26","pm10":12.7},{"site":"BELCO BDA #2","date":"2016-09-26","pm10":9.5},{"site":"BELCO BDA #2","date":"2016-09-28","pm10":9.9},{"site":"BELCO BDA #2","date":"2016-09-29","pm10":10.2},{"site":"BELCO BDA #2","date":"2016-09-30","pm10":11.3},{"site":"BELCO BDA #2","date":"2016-10-01","pm10":7.8},{"site":"BELCO BDA #2","date":"2016-10-02","pm10":12.1},{"site":"BELCO BDA #2","date":"2016-10-02","pm10":9.4},{"site":"BELCO BDA #2","date":"2016-10-02","pm10":6.8},{"site":"BELCO BDA #2","date":"2016-10-03","pm10":13.2},{"site":"BELCO BDA #2","date":"2016-10-05","pm10":8.9},{"site":"BELCO BDA #2","date":"2016-10-06","pm10":14.1},{"site":"BELCO BDA #2","date":"2016-10-06","pm10":12.5},{"site":"BELCO BDA #2","date":"2016-10-07","pm10":11.0},{"site":"BELCO BDA #2","date":"2016-10-08","pm10":12.0},{"site":"BELCO BDA #2","date":"2016-10-08","pm10":18.4},{"site":"BELCO BDA #2","date":"2016-10-09","pm10":15.8},{"site":"BELCO BDA #2","date":"2016-10-10","pm10":8.2},{"site":"BELCO BDA #2","date":"2016-10-11","pm10":6.3},{"site":"BELCO BDA #2","date":"2016-10-15","pm10":19.3},{"site":"BELCO BDA #2","date":"2016-10-17","pm10":13.6},{"site":"BELCO BDA #2","date":"2016-10-21","pm10":13.0},{"site":"BELCO BDA #2","date":"2016-10-23","pm10":15.9},{"site":"BELCO BDA #2","date":"2016-10-23","pm10":15.2},{"site":"BELCO BDA #2","date":"2016-10-25","pm10":14.6},{"site":"BELCO BDA #2","date":"2016-10-26","pm10":14.1},{"site":"BELCO BDA #2","date":"2016-10-27","pm10":12.3},{"site":"BELCO BDA #2","date":"2016-10-28","pm10":12.7},{"site":"BELCO BDA #2","date":"2016-10-28","pm10":12.1},{"site":"BELCO BDA #2","date":"2016-10-30","pm10":13.8},{"site":"BELCO BDA #2","date":"2016-10-30","pm10":12.3},{"site":"BELCO BDA #2","date":"2016-10-31","pm10":15.3},{"site":"BELCO BDA #2","date":"2016-10-31","pm10":10.2},{"site":"BELCO BDA #2","date":"2016-11-02","pm10":15.4},{"site":"BELCO BDA #2","date":"2016-11-02","pm10":10.8},{"site":"BELCO BDA #2","date":"2016-11-04","pm10":13.0},{"site":"BELCO BDA #2","date":"2016-11-05","pm10":9.3},{"site":"BELCO BDA #2","date":"2016-11-06","pm10":13.8},{"site":"BELCO BDA #2","date":"2016-11-07","pm10":12.7},{"site":"BELCO BDA #2","date":"2016-11-08","pm10":14.8},{"site":"BELCO BDA #2","date":"2016-11-10","pm10":13.7},{"site":"BELCO BDA #2","date":"2016-11-12","pm10":13.0},{"site":"BELCO BDA #2","date":"2016-11-12","pm10":8.2},{"site":"BELCO BDA #2","date":"2016-11-13","pm10":7.4},{"site":"BELCO BDA #2","date":"2016-11-14","pm10":6.8},{"site":"BELCO BDA #2","date":"2016-11-15","pm10":5.8},{"site":"BELCO BDA #2","date":"2016-11-16","pm10":10.6},{"site":"BELCO BDA #2","date":"2016-11-16","pm10":9.1},{"site":"BELCO BDA #2","date":"2016-11-17","pm10":13.0},{"site":"BELCO BDA #2","date":"2016-11-18","pm10":10.6},{"site":"BELCO BDA #2","date":"2016-11-20","pm10":12.8},{"site":"BELCO BDA #2","date":"2016-11-21","pm10":8.2},{"site":"BELCO BDA #2","date":"2016-11-22","pm10":12.9},{"site":"BELCO BDA #2","date":"2016-11-23","pm10":12.1},{"site":"BELCO BDA #2","date":"2016-11-24","pm10":14.1},{"site":"BELCO BDA #2","date":"2016-11-24","pm10":10.0},{"site":"BELCO BDA #2","date":"2016-11-24","pm10":7.1},{"site":"BELCO BDA #2","date":"2016-11-25","pm10":12.3},{"site":"BELCO BDA #2","date":"2016-11-27","pm10":10.4},{"site":"BELCO BDA #2","date":"2016-11-29","pm10":10.8},{"site":"BELCO BDA #2","date":"2016-11-29","pm10":13.0},{"site":"BELCO BDA #2","date":"2016-11-30","pm10":9.4},{"site":"BELCO BDA #2","date":"2016-12-01","pm10":16.1},{"site":"BELCO BDA #2","date":"2016-12-03","pm10":13.9},{"site":"BELCO BDA #2","date":"2016-12-04","pm10":16.1},{"site":"BELCO BDA #2","date":"2016-12-05","pm10":12.1},{"site":"BELCO BDA #2","date":"2016-12-05","pm10":6.9},{"site":"BELCO BDA #2","date":"2016-12-06","pm10":25.6},{"site":"BELCO BDA #2","date":"2016-12-08","pm10":8.1},{"site":"BELCO BDA #2","date":"2016-12-09","pm10":11.7},{"site":"BELCO BDA #2","date":"2016-12-10","pm10":12.5},{"site":"BELCO BDA #2","date":"2016-12-11","pm10":12.0},{"site":"BELCO BDA #2","date":"2016-12-13","pm10":12.0},{"site":"BELCO BDA #2","date":"2016-12-14","pm10":12.1},{"site":"BELCO BDA #2","date":"2016-12-14","pm10":22.7},{"site":"BELCO BDA #2","date":"2016-12-15","pm10":21.8},{"site":"BELCO BDA #2","date":"2016-12-15","pm10":19.5},{"site":"BELCO BDA #2","date":"2016-12-17","pm10":8.2},{"site":"BELCO BDA #2","date":"2016-12-18","pm10":10.7},{"site":"BELCO BDA #2","date":"2016-12-19","pm10":16.3},{"site":"BELCO BDA #2","date":"2016-12-20","pm10":12.5},{"site":"BELCO BDA #2","date":"2016-12-20","pm10":8.2},{"site":"BELCO BDA #2","date":"2016-12-21","pm10":10.2},{"site":"BELCO BDA #2","date":"2016-12-22","pm10":19.1},{"site":"BELCO BDA #2","date":"2016-12-23","pm10":22.5},{"site":"BELCO BDA #2","date":"2016-12-24","pm10":14.6},{"site":"BELCO BDA #2","date":"2016-12-27","pm10":19.0},{"site":"BELCO BDA #2","date":"2016-12-28","pm10":22.3},{"site":"BELCO BDA #2","date":"2016-12-29","pm10":12.3},{"site":"BELCO BDA #2","date":"2016-12-29","pm10":25.9},{"site":"BELCO BDA #2","date":"2016-12-30","pm10":13.9}
]},
"mark":{"type":"point","filled":true,"opacity":1,"stroke":"#1a1a1a","strokeWidth":0.8},
"encoding":{
"x":{"field":"date","type":"temporal","scale":{"type":"utc","domain":[{"year":2016,"month":1,"date":1,"utc":true},{"year":2017,"month":1,"date":31,"utc":true}]},
"axis":{"title":null,"values":[{"year":2016,"month":1,"date":1,"utc":true},{"year":2016,"month":3,"date":2,"utc":true},{"year":2016,"month":5,"date":2,"utc":true},{"year":2016,"month":7,"date":2,"utc":true},{"year":2016,"month":9,"date":1,"utc":true},{"year":2016,"month":11,"date":1,"utc":true},{"year":2017,"month":1,"date":1,"utc":true}],"format":"%d/%m/%Y","labelFont":"DejaVu Sans Condensed, sans-serif","labelFontSize":21,"labelColor":"#1a1a1a","labelPadding":17,"labelFlush":false,"labelOverlap":false,"ticks":false,"tickSize":0,"domainColor":"#8c8c8c","domainWidth":3,"grid":true,"gridColor":"#d9d9d9","gridWidth":1.5}},
"y":{"field":"pm10","type":"quantitative","scale":{"domain":[0,120],"nice":false},
"axis":{"title":"PM-10 Concentration (µg/m3)","titleFont":"Lato","titleFontSize":20,"titleFontWeight":"bold","titleColor":"#000","titlePadding":2,"values":[0,20,40,60,80,100,120],"labelFont":"Lato","labelFontSize":17,"labelColor":"#404040","labelPadding":16,"ticks":false,"tickSize":0,"domainColor":"#8c8c8c","domainWidth":2,"grid":true,"gridColor":"#d9d9d9","gridWidth":1.5}},
"color":{"field":"site","type":"nominal","scale":{"domain":["Prospect","East Broadway","BIOS","BELCO BDA #1","BELCO BDA #2"],"range":["#FFFF00","#3E6B9E","#00B050","#FF0000","#C00000"]},
"legend":{"title":null,"orient":"none","legendX":761,"legendY":0,"padding":8,"strokeColor":"#000","fillColor":"#fff","labelFont":"Lato","labelFontSize":15,"labelColor":"#1a1a1a","symbolSize":49,"symbolStrokeColor":"#000","symbolStrokeWidth":0.8,"symbolOpacity":1,"symbolOffset":17,"labelOffset":0,"rowPadding":10,"labelExpr":"datum.label + '    '"}},
"shape":{"field":"site","type":"nominal","scale":{"domain":["Prospect","East Broadway","BIOS","BELCO BDA #1","BELCO BDA #2"],"range":["diamond","diamond","diamond","triangle-up","circle"]}},
"size":{"field":"site","type":"nominal","scale":{"domain":["Prospect","East Broadway","BIOS","BELCO BDA #1","BELCO BDA #2"],"range":[100,100,100,85,42]},"legend":null}
}},
{"data":{"values":[{}]},"mark":{"type":"rule","color":"#FF0000","strokeWidth":2,"strokeDash":[8,5]},"encoding":{"y":{"datum":50}}},
{"data":{"values":[{}]},"mark":{"type":"rule","color":"#000000","strokeWidth":2},"encoding":{"y":{"datum":120}}},
{"data":{"values":[{"date":"2016-02-28","pm10":51.7}]},
"mark":{"type":"text","text":["Clean Air Regulations Limit:","PM-10, 24-hour = <50 µg/m³"],"align":"left","baseline":"middle","font":"Lato","fontSize":17.5,"fontWeight":"bold","color":"#FF0000","lineHeight":21},
"encoding":{"x":{"field":"date","type":"temporal","scale":{"type":"utc"}},"y":{"field":"pm10","type":"quantitative"}}}
]
}
